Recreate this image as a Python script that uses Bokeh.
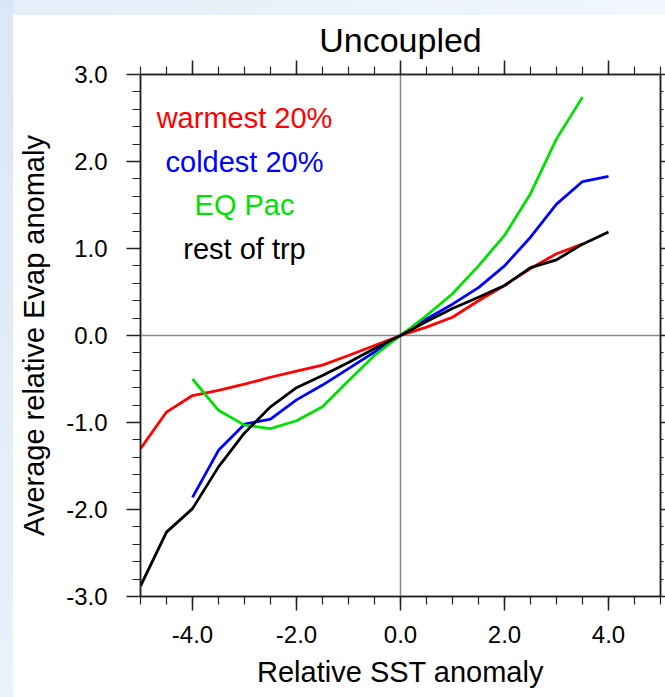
from bokeh.plotting import figure
from bokeh.models import (SingleIntervalTicker, LinearAxis, Span, NumeralTickFormatter,
                          Range1d, ColumnDataSource, CustomJSTickFormatter, Div)
from bokeh.layouts import row, column
from bokeh.embed import file_html
from bokeh.resources import INLINE
from bokeh.core.properties import value

# ---- data ----
x_warm = [-5, -4.5, -4, -3.5, -3, -2.5, -2, -1.5, -1, -0.5, 0, 0.5, 1, 1.5, 2, 2.5, 3, 3.5]
y_warm = [-1.30, -0.88, -0.69, -0.63, -0.56, -0.48, -0.41, -0.34, -0.23, -0.115, 0.0,
          0.096, 0.21, 0.40, 0.575, 0.77, 0.94, 1.05]

x_cold = [-4, -3.5, -3, -2.5, -2, -1.5, -1, -0.5, 0, 0.5, 1, 1.5, 2, 2.5, 3, 3.5, 4]
y_cold = [-1.86, -1.32, -1.02, -0.96, -0.74, -0.57, -0.38, -0.19, 0.0,
          0.19, 0.36, 0.55, 0.80, 1.13, 1.51, 1.77, 1.83]

x_eqpac = [-4, -3.5, -3, -2.5, -2, -1.5, -1, -0.5, 0, 0.5, 1, 1.5, 2, 2.5, 3, 3.5]
y_eqpac = [-0.50, -0.86, -1.03, -1.07, -0.98, -0.82, -0.52, -0.23, 0.0,
           0.23, 0.48, 0.80, 1.15, 1.63, 2.26, 2.74]

x_rest = [-5, -4.5, -4, -3.5, -3, -2.5, -2, -1.5, -1, -0.5, 0, 0.5, 1, 1.5, 2, 2.5, 3, 3.5, 4]
y_rest = [-2.88, -2.26, -1.99, -1.51, -1.12, -0.82, -0.60, -0.46, -0.31, -0.15, 0.0,
          0.16, 0.31, 0.44, 0.575, 0.78, 0.87, 1.05, 1.19]

legend_labels = ["warmest 20%", "coldest 20%", "EQ Pac", "rest of trp"]
legend_y = [2.5, 2.0, 1.5, 1.0]
legend_x = [-3.0, -3.0, -3.0, -3.0]

title_text = "Uncoupled"
x_title = "Relative SST anomaly"
y_title = "Average relative Evap anomaly"

# ---- styles ----
RED, BLUE, GREEN, BLACK = "#ff0000", "#0000ff", "#00e000", "#000000"
FONT = "Liberation Sans"
AXC = "#222222"

p = figure(width=652, height=682, x_range=Range1d(-5, 5), y_range=Range1d(-3, 3),
           output_backend="svg", toolbar_location=None,
           min_border_left=127, min_border_right=5, min_border_top=59, min_border_bottom=101,
           margin=0)

p.background_fill_color = "white"
p.border_fill_color = "white"
p.outline_line_color = AXC
p.outline_line_width = 1.5
p.xgrid.visible = False
p.ygrid.visible = False

p.title.text = title_text
p.title.align = "center"
p.title.text_font = FONT
p.title.text_font_size = "34px"
p.title.text_font_style = "normal"
p.title.text_color = "black"
p.title.standoff = 4


def style_axis(ax, show_labels, tick_out, minor_out):
    ax.axis_line_color = AXC
    ax.axis_line_width = 1.5
    ax.major_tick_line_color = AXC
    ax.major_tick_line_width = 1.5
    ax.minor_tick_line_color = AXC
    ax.minor_tick_line_width = 1.2
    ax.major_tick_in = 0
    ax.minor_tick_in = 0
    ax.major_tick_out = tick_out
    ax.minor_tick_out = minor_out
    ax.major_label_text_font = FONT
    ax.major_label_text_color = "black"
    if show_labels:
        ax.major_label_text_font_size = "24px"
        ax.formatter = NumeralTickFormatter(format="0.0")
    else:
        ax.formatter = CustomJSTickFormatter(code="return '';")
        ax.major_label_standoff = 0


xa = p.xaxis[0]
xa.ticker = SingleIntervalTicker(interval=2, num_minor_ticks=4)
style_axis(xa, True, 14, 8)
xa.major_label_standoff = 15
xa.axis_label = x_title
xa.axis_label_text_font = FONT
xa.axis_label_text_font_size = "29px"
xa.axis_label_text_font_style = "normal"
xa.axis_label_text_color = "black"
xa.axis_label_standoff = 10

ya = p.yaxis[0]
ya.ticker = SingleIntervalTicker(interval=1, num_minor_ticks=5)
style_axis(ya, True, 14, 8)
ya.major_label_standoff = 19
ya.axis_label = y_title
ya.axis_label_text_font = FONT
ya.axis_label_text_font_size = "29px"
ya.axis_label_text_font_style = "normal"
ya.axis_label_text_color = "black"
ya.axis_label_standoff = 13

top = LinearAxis(ticker=SingleIntervalTicker(interval=2, num_minor_ticks=4))
style_axis(top, False, 14, 8)
p.add_layout(top, "above")

right = LinearAxis(ticker=SingleIntervalTicker(interval=1, num_minor_ticks=5))
style_axis(right, False, 5, 3)
p.add_layout(right, "right")

# zero lines
p.add_layout(Span(location=0, dimension="height", line_color="#8a8a8a", line_width=1.5, level="underlay"))
p.add_layout(Span(location=0, dimension="width", line_color="#8a8a8a", line_width=1.5, level="underlay"))

LW = 2.8
p.line(x_warm, y_warm, line_color=RED, line_width=LW)
p.line(x_cold, y_cold, line_color=BLUE, line_width=LW)
p.line(x_eqpac, y_eqpac, line_color=GREEN, line_width=LW)
p.line(x_rest, y_rest, line_color=BLACK, line_width=LW)

src = ColumnDataSource(dict(x=legend_x, y=legend_y, t=legend_labels,
                            c=[RED, BLUE, GREEN, BLACK]))
p.text(x="x", y="y", text="t", text_color="c", source=src, text_align="center",
       text_baseline="middle", text_font=value(FONT), text_font_size="29px")

# light-blue slide background strips around the white panel
left_strip = Div(text="", width=13, height=697, margin=0,
                 styles={"background": "linear-gradient(180deg, #d9e7f6, #eaf2fb)"})
top_strip = Div(text="", width=652, height=15, margin=0,
                styles={"background": "linear-gradient(90deg, #e3eef9, #f1f7fd)"})

layout = row(left_strip, column(top_strip, p, spacing=0, margin=0), spacing=0, margin=0)

open("out.html", "w").write(file_html(layout, INLINE))
